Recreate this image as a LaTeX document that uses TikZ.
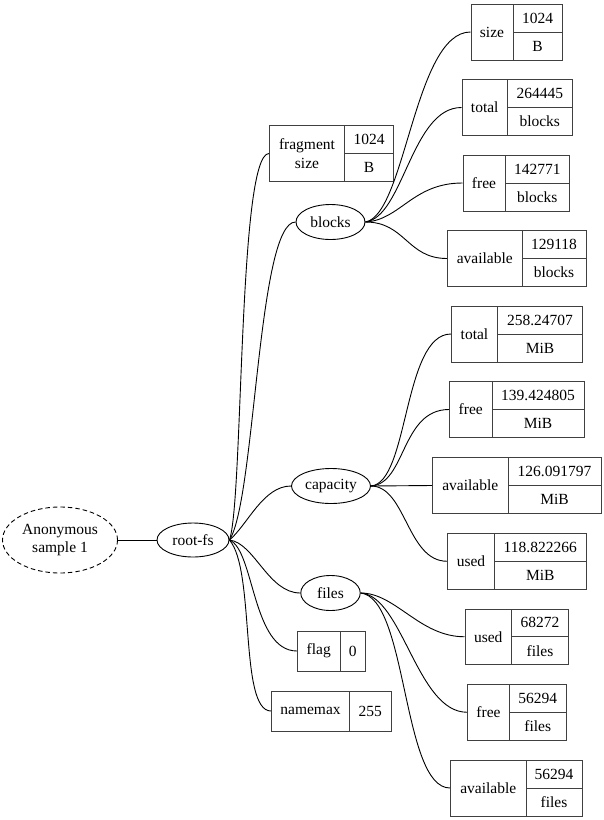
\documentclass[tikz,border=0pt]{standalone}
\usepackage{fontspec}
\setmainfont{Liberation Serif}
\usetikzlibrary{shapes.geometric,fit}
\tikzset{
  txt/.style={inner sep=0pt, font=\fontsize{15.5}{18.5}\selectfont, align=center},
  recbox/.style={draw=black!75, line width=1pt, inner sep=0pt},
  recline/.style={draw=black!75, line width=1pt},
  ell/.style={ellipse, draw=black, line width=0.9pt, inner sep=0pt, font=\fontsize{15.5}{18.5}\selectfont, align=center},
  conn/.style={draw=black, line width=0.9pt},
}
% name, x1, y1, x2, y2, xdiv, label, value, unit
\newcommand\recthree[9]{%
  \node[recbox, fit={(#2,-#3) (#4,-#5)}] (#1) {};
  \draw[recline] (#6,-#3) -- (#6,-#5);
  \draw[recline] (#6,{-(#3+#5)/2}) -- (#4,{-(#3+#5)/2});
  \node[txt] (#1-l) at ({(#2+#6)/2},{-(#3+#5)/2}) {#7};
  \node[txt] (#1-v) at ({(#6+#4)/2},{-(3*#3+#5)/4}) {#8};
  \node[txt] (#1-u) at ({(#6+#4)/2},{-(#3+3*#5)/4}) {#9};
}
% name, x1, y1, x2, y2, xdiv, label, value
\newcommand\rectwo[8]{%
  \node[recbox, fit={(#2,-#3) (#4,-#5)}] (#1) {};
  \draw[recline] (#6,-#3) -- (#6,-#5);
  \node[txt] (#1-l) at ({(#2+#6)/2},{-(#3+#5)/2}) {#7};
  \node[txt] (#1-v) at ({(#6+#4)/2},{-(#3+#5)/2}) {#8};
}
\newcommand\cn[4]{\draw[conn] (#1) .. controls +(#3) and +(#4) .. (#2);}
\begin{document}
\begin{tikzpicture}[x=1pt,y=1pt]
\useasboundingbox (0,0) rectangle (604,-820);

% ellipses
\node[ell, dashed, dash pattern=on 4.5pt off 3pt, minimum width=115pt, minimum height=66pt] (anon) at (60,-540) {Anonymous\\sample 1};
\node[ell, minimum width=72pt, minimum height=34pt] (rootfs) at (193,-540) {root-fs};
\node[ell, minimum width=69pt, minimum height=35pt] (blocks) at (330.5,-222) {blocks};
\node[ell, minimum width=79pt, minimum height=35pt] (capacity) at (331,-486) {capacity};
\node[ell, minimum width=59.5pt, minimum height=35pt] (files) at (330.5,-593) {files};

% records
\recthree{bsize}{471}{4}{562}{60}{513}{size}{1024}{B}
\recthree{btotal}{462}{79.5}{572}{135.5}{507.5}{total}{264445}{blocks}
\recthree{bfree}{463}{155}{569.5}{211}{505}{free}{142771}{blocks}
\recthree{bavail}{447.5}{230.5}{586}{286.5}{522}{available}{129118}{blocks}
\recthree{frag}{269.5}{125.5}{393.5}{181.5}{344.5}{fragment\\size}{1024}{B}
\recthree{ctotal}{451.5}{306}{582.5}{362}{497.5}{total}{258.24707}{MiB}
\recthree{cfree}{449.5}{381.5}{584}{437.5}{492}{free}{139.424805}{MiB}
\recthree{cavail}{432.5}{457.5}{601}{513.5}{508}{available}{126.091797}{MiB}
\recthree{cused}{447.5}{533.5}{586}{589}{494.5}{used}{118.822266}{MiB}
\recthree{fused}{465}{609}{568.5}{664.5}{511.5}{used}{68272}{files}
\recthree{ffree}{467.5}{684.5}{566}{740}{509.5}{free}{56294}{files}
\recthree{favail}{450.5}{760}{582}{816}{526}{available}{56294}{files}
\rectwo{flag}{297.5}{631}{365.5}{671}{340}{flag}{0}
\rectwo{namemax}{271.5}{691}{391}{731}{349.5}{namemax}{255}

% connectors
\draw[conn] (anon) -- (rootfs);
\cn{rootfs.east}{frag.west}{14,40}{-31,0}
\cn{rootfs.east}{blocks.west}{26,40}{-38,0}
\cn{rootfs.east}{capacity.west}{18,15}{-28,0}
\cn{rootfs.east}{files.west}{25,-3}{-32,0}
\cn{rootfs.east}{flag.west}{25,-10}{-45,0}
\cn{rootfs.east}{namemax.west}{26,-30}{-32,0}

\cn{blocks.east}{bsize.west}{40,7}{-56,0}
\cn{blocks.east}{btotal.west}{38,5}{-50,0}
\cn{blocks.east}{bfree.west}{35,2}{-50,0}
\cn{blocks.east}{bavail.west}{40,0}{-40,0}

\cn{capacity.east}{ctotal.west}{38,3}{-48,0}
\cn{capacity.east}{cfree.west}{35,2}{-48,0}
\draw[conn] (capacity.east) -- (cavail.west);
\cn{capacity.east}{cused.west}{35,0}{-40,0}

\cn{files.east}{fused.west}{35,0}{-45,0}
\cn{files.east}{ffree.west}{42,-3}{-50,0}
\cn{files.east}{favail.west}{47,-5}{-48,0}
\end{tikzpicture}
\end{document}
